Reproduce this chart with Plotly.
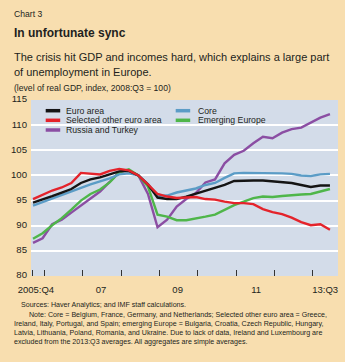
import plotly.graph_objects as go

# quarterly index positions: 0 = 2005:Q4 ... 31 = 2013:Q3
quarters = list(range(32))

euro_area = [94.6, 95.2, 95.9, 96.6, 97.3, 98.5, 99.2, 99.6, 100.2, 100.8, 100.9, 100.0,
             98.2, 95.6, 95.3, 95.3, 95.8, 96.4, 97.0, 97.6, 98.1, 98.9, 99.0, 99.0,
             99.0, 98.8, 98.6, 98.5, 98.1, 97.7, 98.0, 98.0]
core = [94.0, 94.7, 95.4, 96.2, 96.8, 97.6, 98.2, 98.8, 99.4, 100.2, 100.4, 100.0,
        98.3, 95.9, 96.0, 96.6, 97.0, 97.4, 98.1, 98.5, 99.5, 100.4, 100.5, 100.5,
        100.5, 100.5, 100.4, 100.3, 100.0, 99.9, 100.2, 100.3]
selected = [95.3, 96.2, 97.0, 97.6, 98.5, 100.5, 100.3, 100.2, 100.9, 101.3, 101.0, 100.0,
            98.2, 96.3, 95.8, 95.5, 95.6, 95.7, 95.3, 95.2, 94.8, 94.5, 94.5, 94.3,
            93.3, 92.7, 92.3, 91.6, 90.7, 90.1, 90.3, 89.2]
emerging = [87.4, 88.5, 90.1, 91.5, 93.2, 95.0, 96.3, 97.2, 98.6, 100.6, 101.2, 100.0,
            97.8, 92.2, 91.8, 91.1, 91.1, 91.4, 91.8, 92.2, 93.2, 94.1, 94.8, 95.5,
            95.8, 95.7, 95.9, 96.1, 96.2, 96.3, 96.8, 97.3]
russia_turkey = [86.6, 87.5, 90.3, 91.2, 92.6, 94.0, 95.3, 96.8, 98.7, 100.7, 101.0, 100.0,
                 96.3, 89.7, 91.2, 93.8, 95.3, 96.5, 98.6, 99.2, 102.4, 104.1, 104.9, 106.4,
                 107.7, 107.4, 108.5, 109.2, 109.5, 110.5, 111.5, 112.2]

series_names = ["Euro area", "Selected other euro area", "Russia and Turkey", "Core", "Emerging Europe"]
series_values = [euro_area, selected, russia_turkey, core, emerging]
series_colors = ["#141414", "#e4232b", "#8b4ea3", "#5b9cc6", "#4fb64a"]

# x-axis: year-boundary tick marks and centred labels
year_marks = [-0.07, 1.2, 5.2, 9.2, 13.2, 17.2, 21.2, 25.2, 29.2]
label_pos = [0.3, 7.1, 15.1, 23.3, 30.5]
label_text = ["2005:Q4", "07", "09", "11", "13:Q3"]
y_ticks = [80, 85, 90, 95, 100, 105, 110, 115]

FONT = "Liberation Sans, Arial, sans-serif"
TXT = "#231f20"

W, H = 345, 362
L, R, T, B = 31, 7, 100, 86
PW, PH = W - L - R, H - T - B


def px(x):
    return (x - L) / PW


def py(y):
    return (H - B - y) / PH


fig = go.Figure()
draw_order = [2, 4, 3, 0, 1]
for k in draw_order:
    fig.add_trace(go.Scatter(x=quarters, y=series_values[k], mode="lines",
                             line=dict(color=series_colors[k], width=2.4),
                             name=series_names[k], showlegend=False))

annotations = []
shapes = []
# manual legend (two columns)
legend_slots = [(45.7, 64, 110.7), (45.7, 64, 120.3), (45.7, 64, 130.0),
                (175.7, 195.7, 110.7), (175.7, 195.7, 120.3)]
for k, (sx, tx, sy) in enumerate(legend_slots):
    shapes.append(dict(type="line", xref="paper", yref="paper",
                       x0=px(sx), x1=px(sx + 14.5), y0=py(sy), y1=py(sy),
                       line=dict(color=series_colors[k], width=3.5)))
    annotations.append(dict(xref="paper", yref="paper", x=px(tx), y=py(sy),
                            text=series_names[k], showarrow=False, xanchor="left",
                            yanchor="middle", font=dict(family=FONT, size=8.7, color=TXT)))

# headings
heads = [
    ("Chart 3", 12, 14, 8.6),
    ("<b>In unfortunate sync</b>", 12, 33.5, 12),
    ("The crisis hit GDP and incomes hard, which explains a large part", 12, 56.5, 11),
    ("of unemployment in Europe.", 12, 72, 11),
    ("(level of real GDP, index, 2008:Q3 = 100)", 12, 88.5, 8.6),
]
for text, x, y, size in heads:
    annotations.append(dict(xref="paper", yref="paper", x=px(x), y=py(y), text=text,
                            showarrow=False, xanchor="left", yanchor="middle",
                            font=dict(family=FONT, size=size, color=TXT)))

notes = [
    ("Sources: Haver Analytics; and IMF staff calculations.", 19.3, 305),
    ("Note: Core = Belgium, France, Germany, and Netherlands; Selected other euro area = Greece,", 26.7, 315),
    ("Ireland, Italy, Portugal, and Spain; emerging Europe = Bulgaria, Croatia, Czech Republic, Hungary,", 11.7, 324),
    ("Latvia, Lithuania, Poland, Romania, and Ukraine. Due to lack of data, Ireland and Luxembourg are", 11.7, 333),
    ("excluded from the 2013:Q3 averages. All aggregates are simple averages.", 11.7, 342),
]
for text, x, y in notes:
    annotations.append(dict(xref="paper", yref="paper", x=px(x), y=py(y), text=text,
                            showarrow=False, xanchor="left", yanchor="middle",
                            font=dict(family=FONT, size=7.1, color=TXT)))

fig.update_layout(
    width=W, height=H,
    margin=dict(l=L, r=R, t=T, b=B, pad=0),
    paper_bgcolor="#f8deaf",
    plot_bgcolor="#d3dce9",
    font=dict(family=FONT, color=TXT, size=9.5),
    xaxis=dict(range=[-0.21, 31.84], tickvals=label_pos, ticktext=label_text,
               ticks="", showgrid=False, zeroline=False, showline=False,
               tickfont=dict(size=9.5, family=FONT, color=TXT), ticklabelstandoff=6,
               minor=dict(tickvals=year_marks, ticks="inside", ticklen=6,
                          tickwidth=1, tickcolor="#333333", showgrid=False)),
    yaxis=dict(range=[80, 115], tickvals=y_ticks, ticks="", showgrid=True,
               gridcolor="#ffffff", gridwidth=1.5, zeroline=False, showline=False,
               tickfont=dict(size=9.6, family=FONT, color=TXT), ticklabelstandoff=3,
               ticklabelshift=-1),
    shapes=shapes,
    annotations=annotations,
    showlegend=False,
)

fig.write_html("out.html")
